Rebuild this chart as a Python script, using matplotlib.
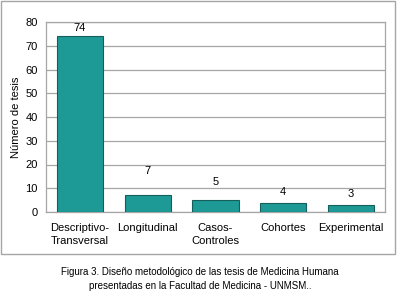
import matplotlib.pyplot as plt
from matplotlib.patches import Rectangle

categories = ['Descriptivo-\nTransversal', 'Longitudinal', 'Casos-\nControles', 'Cohortes', 'Experimental']
values = [74, 7, 5, 4, 3]
value_labels = ['74', '7', '5', '4', '3']
label_offsets = [1.5, 8, 5.5, 2.3, 2.5]  # labels sit at uneven heights in the original

plt.rcParams['font.family'] = ['Liberation Sans Narrow', 'Liberation Sans', 'DejaVu Sans']
grey = '#a6a6a6'

fig = plt.figure(figsize=(4.0, 2.94), dpi=100)
ax = fig.add_axes([46 / 400, 1 - 212 / 294, 339 / 400, 190 / 294])

x = range(len(categories))
ax.bar(x, values, width=0.68, color='#1e9a96', edgecolor='#145f5c', linewidth=0.8, zorder=3)
for i, (v, lab) in enumerate(zip(values, value_labels)):
    ax.text(i, v + label_offsets[i], lab, ha='center', va='bottom', fontsize=8)

ax.set_xlim(-0.5, len(categories) - 0.5)
ax.set_ylim(0, 80)
ax.set_yticks(range(0, 81, 10))
ax.set_xticks(list(x))
ax.set_xticklabels(categories, fontsize=8, linespacing=1.35)
ax.tick_params(axis='y', labelsize=8, length=0, pad=6)
ax.tick_params(axis='x', length=0, pad=8)
ax.yaxis.grid(True, color=grey, linewidth=0.9, zorder=0)
for s in ax.spines.values():
    s.set_color(grey)
    s.set_linewidth(0.9)
ax.set_ylabel('Número de tesis', fontsize=8, labelpad=3)

# outer frame around the chart
fig.patches.append(Rectangle((1 / 400, 1 - 254 / 294), 394 / 400, 253 / 294,
                             transform=fig.transFigure, fill=False,
                             edgecolor=grey, linewidth=1.0))

fig.text(0.5, 1 - 279 / 294, 'Figura 3. Diseño metodológico de las tesis de Medicina Humana\n'
         'presentadas en la Facultad de Medicina - UNMSM..',
         ha='center', va='center', fontsize=7, linespacing=1.45)

fig.savefig('out.png', dpi=100)
